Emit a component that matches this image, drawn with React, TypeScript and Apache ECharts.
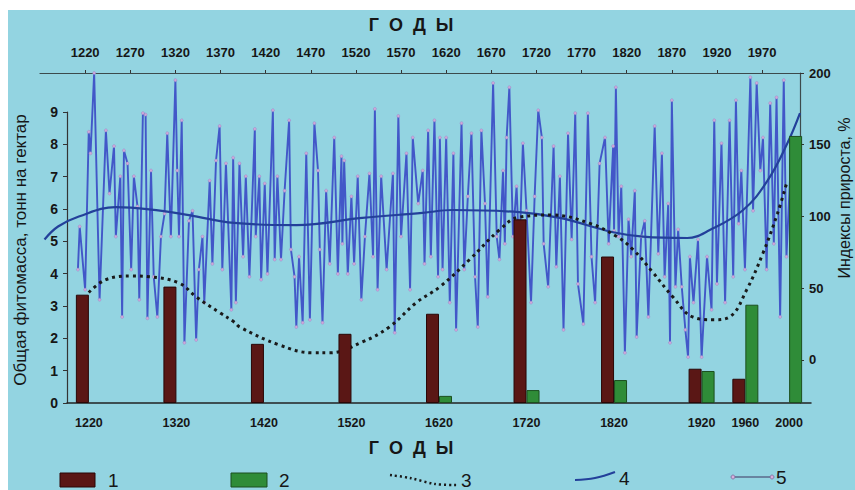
import React, { useEffect, useRef } from 'react';
import * as echarts from 'echarts';

// ---------- DATA ----------
const barCategories = ['1220', '1270', '1320', '1370', '1420', '1470', '1520', '1570', '1620', '1670', '1720', '1770', '1820', '1870', '1920', '1960', '2000'];
const bottomLabelsShown = ['1220', '1320', '1420', '1520', '1620', '1720', '1820', '1920', '1960', '2000'];
const biomassTotal = [3.35, null, 3.6, null, 1.83, null, 2.14, null, 2.76, null, 5.68, null, 4.53, null, 1.06, 0.75, null];
const biomassNew = [null, null, null, null, null, null, null, null, 0.22, null, 0.4, null, 0.71, null, 0.99, 3.04, 8.26];

const topTickYears = [1220, 1270, 1320, 1370, 1420, 1470, 1520, 1570, 1620, 1670, 1720, 1770, 1820, 1870, 1920, 1970];
const rightTicks = [0, 50, 100, 150, 200];

const trend3Years = [1224, 1243, 1272, 1291, 1324, 1343, 1369, 1385, 1391, 1435, 1472, 1491, 1527, 1557, 1587, 1613, 1646, 1679, 1701, 1737, 1780, 1809, 1827, 1849, 1871, 1893, 1916, 1934, 1953, 1971, 1987, 1998];
const trend3Values = [47, 56, 58.5, 58, 53.6, 44, 33, 26.5, 23, 10.5, 5, 5, 12.5, 23, 40, 51, 70, 90.6, 99.6, 101, 95, 86, 77, 61, 44, 30, 28, 30, 49, 74.5, 102, 125];

const trend4Years = [1175, 1190, 1213, 1254, 1291, 1335, 1385, 1454, 1527, 1594, 1627, 1701, 1746, 1805, 1838, 1887, 1912, 1949, 1976, 1998, 2012];
const trend4Values = [84, 93, 100, 106.5, 105, 101, 95.5, 94, 99, 102.5, 104.5, 103, 99, 89, 86, 85, 90.5, 104.5, 125, 151, 172];

const indexYears = [
  1212, 1214, 1220, 1224, 1226, 1230, 1236, 1243, 1247, 1252, 1254, 1259, 1261, 1263, 1267, 1271, 1274, 1278, 1280, 1284,
  1287, 1289, 1293, 1296, 1300, 1304, 1308, 1311, 1315, 1320, 1322, 1324, 1327, 1330, 1335, 1339, 1343, 1346, 1350, 1352,
  1358, 1361, 1365, 1369, 1372, 1376, 1382, 1384, 1387, 1391, 1395, 1398, 1402, 1408, 1409, 1413, 1415, 1419, 1422, 1428,
  1430, 1433, 1437, 1441, 1446, 1448, 1452, 1454, 1457, 1461, 1465, 1469, 1474, 1478, 1480, 1483, 1487, 1491, 1496, 1500,
  1504, 1505, 1507, 1511, 1515, 1518, 1522, 1526, 1530, 1535, 1539, 1541, 1544, 1548, 1554, 1561, 1563, 1567, 1570, 1576,
  1580, 1583, 1589, 1594, 1596, 1600, 1603, 1607, 1611, 1613, 1616, 1620, 1624, 1628, 1631, 1637, 1640, 1644, 1648, 1652,
  1655, 1659, 1663, 1666, 1672, 1676, 1679, 1683, 1685, 1687, 1690, 1694, 1698, 1701, 1705, 1709, 1714, 1718, 1722, 1726,
  1728, 1733, 1739, 1742, 1746, 1750, 1755, 1759, 1763, 1766, 1772, 1777, 1781, 1785, 1790, 1796, 1800, 1805, 1806, 1808,
  1811, 1814, 1818, 1822, 1825, 1829, 1831, 1836, 1840, 1844, 1851, 1855, 1859, 1862, 1866, 1868, 1870, 1874, 1877, 1881,
  1885, 1888, 1890, 1894, 1899, 1903, 1909, 1914, 1917, 1920, 1925, 1929, 1934, 1938, 1941, 1944, 1947, 1951, 1957, 1960,
  1964, 1968, 1971, 1975, 1979, 1983, 1986, 1990, 1994, 1997, 2003,
];
const indexValues = [
  63, 93, 49, 159, 144, 200, 42, 160, 116, 149, 86, 128, 30, 146, 137, 63, 128, 107, 42, 172,
  171, 29, 132, 58, 30, 86, 102, 158, 86, 195, 132, 86, 167, 12, 97, 104, 14, 63, 86, 40,
  125, 67, 139, 163, 63, 137, 35, 141, 40, 137, 72, 128, 58, 161, 86, 128, 56, 123, 60, 174,
  70, 128, 70, 118, 167, 77, 58, 23, 72, 26, 144, 28, 165, 132, 77, 26, 118, 67, 155, 60,
  142, 81, 139, 60, 114, 67, 128, 42, 86, 130, 72, 175, 49, 128, 63, 130, 19, 170, 86, 144,
  49, 155, 109, 132, 67, 160, 72, 167, 58, 155, 63, 155, 40, 144, 21, 165, 63, 114, 158, 58,
  23, 160, 109, 44, 193, 86, 70, 132, 81, 155, 190, 86, 121, 72, 151, 104, 40, 114, 174, 155,
  81, 51, 149, 65, 128, 21, 158, 84, 172, 53, 25, 172, 72, 40, 137, 155, 81, 149, 90, 190,
  86, 121, 5, 98, 72, 118, 16, 86, 97, 30, 163, 74, 144, 58, 109, 12, 181, 51, 91, 51,
  21, 2, 72, 40, 84, 2, 72, 35, 167, 53, 151, 40, 167, 58, 181, 95, 132, 63, 197, 104,
  193, 132, 155, 63, 179, 81, 183, 30, 195, 72, 155,
];

const legendLabels = ['1', '2', '3', '4', '5'];

const pair = (xs: number[], ys: number[]) => xs.map((x, i) => [x, ys[i]]);

export default function App() {
  const ref = useRef<HTMLDivElement>(null);
  useEffect(() => {
    if (!ref.current) return;
    const chart = echarts.init(ref.current, null, { renderer: 'svg', width: 855, height: 490 });
    const ink = '#161616';
    const narrow = '"Liberation Sans Narrow", "Arial Narrow", "Liberation Sans", Arial, sans-serif';
    const option: any = {
      animation: false,
      backgroundColor: 'transparent',
      textStyle: { fontFamily: '"Liberation Sans", Arial, sans-serif' },
      grid: [
        { left: 67, right: 44, top: 112, bottom: 87 },
        { left: 40, right: 55, top: 73, bottom: 87 },
      ],
      xAxis: [
        {
          type: 'category', gridIndex: 0, position: 'bottom', data: barCategories, boundaryGap: true,
          axisLine: { lineStyle: { color: '#222', width: 1.5 } },
          axisTick: { interval: 0, length: 4, lineStyle: { color: '#222' } },
          axisLabel: {
            interval: (i: number) => bottomLabelsShown.includes(barCategories[i]),
            margin: 13, color: ink, fontWeight: 'bold', fontSize: 12.5,
          },
          splitLine: { show: false },
        },
        {
          type: 'value', gridIndex: 1, position: 'top', min: 1170, max: 2012,
          splitLine: { show: false },
          axisLine: { onZero: false, lineStyle: { color: '#3c4a4c', width: 1.2 } },
          axisTick: { customValues: topTickYears, length: 3, lineStyle: { color: '#333' } },
          axisLabel: {
            customValues: topTickYears, margin: 14, color: ink, fontWeight: 'bold', fontSize: 13, fontFamily: narrow,
            formatter: (v: number) => String(v),
          },
        },
      ],
      yAxis: [
        {
          type: 'value', gridIndex: 0, position: 'left', min: 0, max: 9, interval: 1,
          splitLine: { show: false },
          axisLine: { show: true, lineStyle: { color: '#333', width: 1.2 } },
          axisTick: { show: true, length: 4, lineStyle: { color: '#333' } },
          axisLabel: { margin: 9, color: ink, fontWeight: 'bold', fontSize: 14 },
        },
        {
          type: 'value', gridIndex: 1, position: 'right', min: -30, max: 200,
          splitLine: { show: false },
          axisLine: { show: true, onZero: false, lineStyle: { color: '#3c4a4c', width: 1.2 } },
          axisTick: { show: true, customValues: rightTicks, length: 4, lineStyle: { color: '#333' } },
          axisLabel: { customValues: rightTicks, margin: 9, color: ink, fontWeight: 'bold', fontSize: 13, fontFamily: narrow },
        },
      ],
      series: [
        {
          name: legendLabels[4], type: 'line', xAxisIndex: 1, yAxisIndex: 1, z: 2,
          data: pair(indexYears, indexValues),
          symbol: 'circle', symbolSize: 3, showAllSymbol: true,
          lineStyle: { color: '#4257c8', width: 1.9 },
          itemStyle: { color: '#cfa9d8', borderColor: '#9a84c8', borderWidth: 0.5 },
        },
        {
          name: legendLabels[3], type: 'line', xAxisIndex: 1, yAxisIndex: 1, z: 3,
          data: pair(trend4Years, trend4Values), smooth: 0.4, showSymbol: false,
          lineStyle: { color: '#23409a', width: 2.2 },
        },
        {
          name: legendLabels[2], type: 'line', xAxisIndex: 1, yAxisIndex: 1, z: 3,
          data: pair(trend3Years, trend3Values), smooth: 0.4, showSymbol: false,
          lineStyle: { color: '#1a1a1a', width: 3, type: [3, 4] },
        },
        {
          name: legendLabels[0], type: 'bar', xAxisIndex: 0, yAxisIndex: 0, z: 5,
          data: biomassTotal, barWidth: 13, barGap: '0%',
          itemStyle: { color: '#5a1715', borderColor: '#2a0707', borderWidth: 1 },
        },
        {
          name: legendLabels[1], type: 'bar', xAxisIndex: 0, yAxisIndex: 0, z: 5,
          data: biomassNew, barWidth: 13, barGap: '0%',
          itemStyle: { color: '#2f8c38', borderColor: '#1b4f1e', borderWidth: 1 },
        },
      ],
      graphic: [
        { type: 'rect', silent: true, z: -10, shape: { x: 8, y: 10, width: 847, height: 480 }, style: { fill: '#93d4e1' } },
        { type: 'text', x: 411, y: 25, style: { text: 'Г  О  Д  Ы', fontSize: 18, fontWeight: 'bold', fill: ink, textAlign: 'center', textVerticalAlign: 'middle' } },
        { type: 'text', x: 411, y: 448, style: { text: 'Г  О  Д  Ы', fontSize: 18, fontWeight: 'bold', fill: ink, textAlign: 'center', textVerticalAlign: 'middle' } },
        { type: 'text', x: 20, y: 250, rotation: Math.PI / 2, style: { text: 'Общая фитомасса, тонн на гектар', fontSize: 17, fill: ink, textAlign: 'center', textVerticalAlign: 'middle' } },
        { type: 'text', x: 844, y: 198, rotation: Math.PI / 2, style: { text: 'Индексы прироста, %', fontSize: 16, fill: ink, textAlign: 'center', textVerticalAlign: 'middle' } },
        // legend
        { type: 'rect', shape: { x: 60, y: 473, width: 35, height: 14 }, style: { fill: '#5a1715', stroke: '#2a0707', lineWidth: 1 } },
        { type: 'text', x: 108, y: 480, style: { text: legendLabels[0], fontSize: 19, fill: ink, textVerticalAlign: 'middle' } },
        { type: 'rect', shape: { x: 231, y: 473, width: 36, height: 14 }, style: { fill: '#2f8c38', stroke: '#1b4f1e', lineWidth: 1 } },
        { type: 'text', x: 279, y: 480, style: { text: legendLabels[1], fontSize: 19, fill: ink, textVerticalAlign: 'middle' } },
        { type: 'polyline', shape: { points: [[390, 475], [410, 478], [435, 484], [457, 485]], smooth: 0.3 }, style: { stroke: '#1a1a1a', lineWidth: 2.5, lineDash: [2, 3], fill: 'none' } },
        { type: 'text', x: 461, y: 480, style: { text: legendLabels[2], fontSize: 19, fill: ink, textVerticalAlign: 'middle' } },
        { type: 'polyline', shape: { points: [[575, 480], [595, 478], [615, 472]], smooth: 0.4 }, style: { stroke: '#23409a', lineWidth: 2.2, fill: 'none' } },
        { type: 'text', x: 619, y: 478, style: { text: legendLabels[3], fontSize: 19, fill: ink, textVerticalAlign: 'middle' } },
        { type: 'line', shape: { x1: 733, y1: 477, x2: 772, y2: 477 }, style: { stroke: '#5a6a8a', lineWidth: 1.5 } },
        { type: 'circle', shape: { cx: 733, cy: 477, r: 2 }, style: { fill: '#d7b0dc', stroke: '#7a6a9a', lineWidth: 0.8 } },
        { type: 'circle', shape: { cx: 772, cy: 477, r: 2 }, style: { fill: '#d7b0dc', stroke: '#7a6a9a', lineWidth: 0.8 } },
        { type: 'text', x: 776, y: 477, style: { text: legendLabels[4], fontSize: 19, fill: ink, textVerticalAlign: 'middle' } },
      ],
    };
    chart.setOption(option);
    return () => chart.dispose();
  }, []);
  return <div ref={ref} style={{ position: 'absolute', left: 0, top: 0, width: 855, height: 490, background: '#ffffff' }} />;
}
